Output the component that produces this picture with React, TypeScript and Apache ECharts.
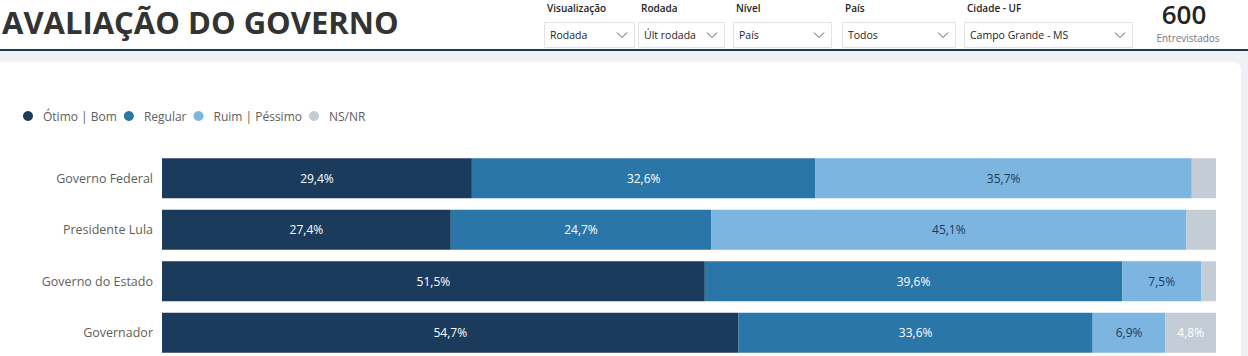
import React, { useEffect, useRef } from "react";
import * as echarts from "echarts";

const categories = ["Governo Federal", "Presidente Lula", "Governo do Estado", "Governador"];
const otimoBom = [29.4, 27.4, 51.5, 54.7];
const regular = [32.6, 24.7, 39.6, 33.6];
const ruimPessimo = [35.7, 45.1, 7.5, 6.9];
const nsNr = [2.3, 2.8, 1.4, 4.8];
const seriesNames = ["Ótimo | Bom", "Regular", "Ruim | Péssimo", "NS/NR"];
const filterLabels = ["Visualização", "Rodada", "Nível", "País", "Cidade - UF"];
const filterValues = ["Rodada", "Últ rodada", "País", "Todos", "Campo Grande - MS"];
const title = "AVALIAÇÃO DO GOVERNO";
const totalLabel = "600";
const totalCaption = "Entrevistados";

const COLORS = ["#1b3b5c", "#2a76a9", "#7bb5e0", "#c4ccd6"];
const LABEL_COLORS = ["#ffffff", "#ffffff", "#1b3b5c", "#ffffff"];
const FONT = "'Open Sans', 'Noto Sans', sans-serif";

const boxes = [
  [544, 634],
  [638, 724],
  [733, 831],
  [842, 955],
  [964, 1132],
];

export default function App() {
  const ref = useRef<HTMLDivElement>(null);
  useEffect(() => {
    if (!ref.current) return;
    const chart = echarts.init(ref.current, null, { renderer: "svg" });
    const data = [otimoBom, regular, ruimPessimo, nsNr];

    const graphics: any[] = [
      { type: "rect", z: -10, shape: { x: 0, y: 51, width: 1248, height: 320 }, style: { fill: "#eff1f4" }, silent: true },
      { type: "rect", z: -9, shape: { x: 0, y: 62, width: 1241, height: 310, r: [0, 8, 0, 0] }, style: { fill: "#ffffff" }, silent: true },
      { type: "rect", z: -8, shape: { x: 0, y: 49, width: 1248, height: 2 }, style: { fill: "#1d3c5a" }, silent: true },
      {
        type: "text",
        x: 2,
        y: 22,
        style: { text: title, font: `bold 31px ${FONT}`, fill: "#333333", textVerticalAlign: "middle" },
      },
      {
        type: "text",
        x: 1184,
        y: 14,
        style: { text: totalLabel, font: `600 26px ${FONT}`, lineHeight: 26, fill: "#252423", textAlign: "center", textVerticalAlign: "middle" },
      },
      {
        type: "text",
        x: 1188,
        y: 38,
        style: { text: totalCaption, font: `10px ${FONT}`, fill: "#777777", textAlign: "center", textVerticalAlign: "middle" },
      },
    ];
    boxes.forEach(([x0, x1], i) => {
      graphics.push({
        type: "text",
        x: x0 + 3,
        y: 8,
        style: { text: filterLabels[i], font: `600 10px ${FONT}`, fill: "#252423", textVerticalAlign: "middle" },
      });
      graphics.push({
        type: "rect",
        shape: { x: x0 + 0.5, y: 22.5, width: x1 - x0, height: 25 },
        style: { fill: "#ffffff", stroke: "#e3e3e3", lineWidth: 1 },
      });
      graphics.push({
        type: "text",
        x: x0 + 6,
        y: 35,
        style: { text: filterValues[i], font: `10.5px ${FONT}`, fill: "#252423", textVerticalAlign: "middle" },
      });
      const cx = x1 - 12;
      graphics.push({
        type: "polyline",
        shape: { points: [[cx - 5, 32.5], [cx, 37.5], [cx + 5, 32.5]] },
        style: { stroke: "#555555", lineWidth: 1, fill: null },
      });
    });

    chart.setOption({
      animation: false,
      textStyle: { fontFamily: FONT },
      graphic: graphics,
      legend: {
        left: 23,
        top: 104,
        padding: 0,
        icon: "circle",
        itemWidth: 10,
        itemHeight: 10,
        itemGap: 7,
        data: seriesNames,
        textStyle: { fontSize: 12, color: "#605e5c", padding: [0, 0, 0, 5], lineHeight: 24 },
      },
      grid: { left: 162, right: 32, top: 152.5, height: 206 },
      xAxis: { type: "value", min: 0, max: 100, show: false },
      yAxis: {
        type: "category",
        data: categories,
        inverse: true,
        axisLine: { show: false },
        axisTick: { show: false },
        axisLabel: { color: "#605e5c", fontSize: 12.5, margin: 9, fontFamily: FONT },
      },
      series: seriesNames.map((name, i) => ({
        name,
        type: "bar",
        stack: "total",
        barWidth: 40,
        data: data[i],
        itemStyle: { color: COLORS[i] },
        label: {
          show: true,
          position: "inside",
          color: LABEL_COLORS[i],
          fontSize: 12,
          fontFamily: FONT,
          formatter: (p: any) => (p.value >= 4 ? p.value.toFixed(1).replace(".", ",") + "%" : ""),
        },
      })),
    });
    return () => chart.dispose();
  }, []);
  return <div ref={ref} style={{ position: "fixed", left: 0, top: 0, width: 1248, height: 362, background: "#ffffff" }} />;
}
